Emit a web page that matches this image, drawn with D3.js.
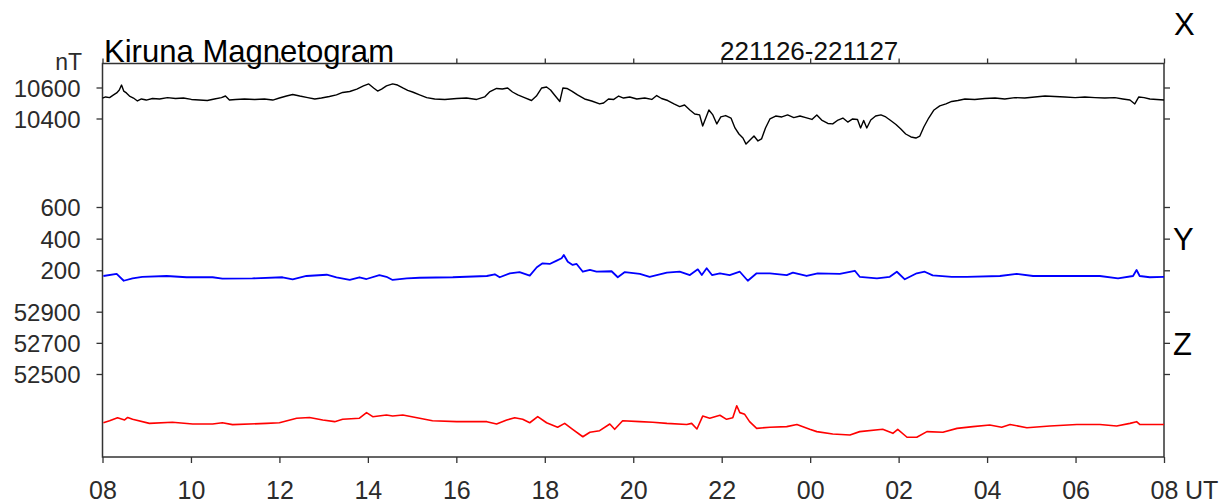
<!DOCTYPE html>
<html>
<head>
<meta charset="utf-8">
<script src="https://cdn.jsdelivr.net/npm/d3@7"></script>
<style>
  html, body { margin: 0; padding: 0; background: #fff; }
  svg { display: block; font-family: "Liberation Sans", Arial, sans-serif; }
</style>
</head>
<body>
<svg id="chart" width="1219" height="504"></svg>
<script>
// ---- Data (hours after 08 UT, nT) ----
const xHours = [0.00,0.07,0.16,0.25,0.32,0.38,0.43,0.48,0.54,0.61,0.70,0.79,0.88,0.99,1.13,1.29,1.47,1.65,1.83,2.01,2.19,2.37,2.53,2.69,2.78,2.87,3.01,3.21,3.44,3.66,3.85,4.00,4.16,4.30,4.46,4.64,4.80,4.95,5.13,5.29,5.43,5.59,5.75,5.90,6.02,6.13,6.22,6.31,6.42,6.56,6.67,6.79,6.90,7.01,7.17,7.33,7.51,7.74,8.01,8.23,8.46,8.64,8.75,8.91,9.04,9.16,9.27,9.39,9.54,9.70,9.81,9.93,10.04,10.13,10.22,10.34,10.41,10.50,10.61,10.74,10.90,11.06,11.24,11.33,11.44,11.56,11.67,11.78,11.92,12.08,12.26,12.42,12.53,12.64,12.78,12.92,13.05,13.16,13.28,13.39,13.50,13.57,13.64,13.71,13.80,13.89,13.98,14.09,14.21,14.30,14.39,14.48,14.55,14.64,14.73,14.82,14.90,14.99,15.09,15.22,15.36,15.49,15.63,15.77,15.90,16.04,16.15,16.26,16.40,16.51,16.63,16.74,16.85,16.96,17.07,17.14,17.21,17.28,17.37,17.48,17.60,17.71,17.82,17.94,18.05,18.16,18.28,18.39,18.48,18.57,18.68,18.80,18.93,19.07,19.20,19.34,19.50,19.72,19.95,20.18,20.40,20.63,20.85,21.08,21.31,21.53,21.76,21.99,22.21,22.44,22.66,22.89,23.07,23.23,23.34,23.43,23.55,23.68,23.84,24.00];
const xValues = [10532,10539,10535,10552,10565,10584,10616,10577,10565,10545,10532,10513,10526,10519,10529,10526,10535,10529,10532,10523,10519,10516,10526,10535,10545,10519,10523,10526,10523,10526,10519,10532,10545,10555,10545,10535,10526,10532,10542,10552,10568,10574,10590,10610,10623,10597,10577,10590,10610,10623,10616,10597,10581,10571,10552,10535,10526,10523,10529,10532,10523,10539,10571,10594,10590,10597,10571,10552,10535,10516,10545,10597,10603,10584,10552,10510,10597,10594,10577,10552,10526,10513,10494,10500,10526,10523,10545,10532,10539,10526,10532,10523,10548,10529,10516,10494,10477,10487,10455,10429,10423,10352,10403,10455,10423,10365,10410,10419,10403,10339,10300,10274,10235,10261,10287,10255,10268,10339,10397,10416,10410,10423,10406,10416,10406,10394,10423,10390,10368,10365,10390,10403,10377,10397,10394,10339,10387,10339,10390,10416,10423,10410,10387,10361,10332,10300,10281,10274,10287,10345,10403,10455,10481,10494,10510,10516,10526,10523,10529,10532,10526,10535,10532,10539,10545,10542,10539,10535,10539,10535,10532,10535,10526,10519,10494,10539,10535,10526,10523,10519];

const yHours = [0.02,0.32,0.48,0.68,0.90,1.45,1.90,2.49,2.71,3.39,4.07,4.30,4.61,5.07,5.29,5.59,5.81,5.97,6.26,6.42,6.56,6.88,7.17,7.92,8.69,8.87,8.98,9.21,9.43,9.66,9.82,9.95,10.11,10.27,10.38,10.43,10.52,10.63,10.72,10.86,11.02,11.17,11.51,11.65,11.81,12.15,12.37,12.76,13.05,13.28,13.46,13.55,13.66,13.78,13.96,14.18,14.41,14.59,14.79,15.09,15.47,15.61,15.92,16.17,16.67,17.01,17.12,17.51,17.80,17.96,18.14,18.41,18.59,18.77,19.20,19.54,20.29,20.67,21.04,21.80,22.55,22.96,23.30,23.38,23.45,23.68,24.00];
const yValues = [164,177,134,149,159,164,156,156,147,149,156,143,164,172,156,139,156,145,170,159,139,149,153,156,164,175,156,181,189,166,219,244,240,261,276,297,254,234,240,191,202,191,194,156,189,177,159,185,191,170,206,170,213,170,181,170,191,134,181,181,170,185,164,181,177,197,159,149,159,191,143,181,191,168,159,159,164,177,164,164,164,149,164,202,164,156,159];

const zHours = [0.02,0.16,0.34,0.50,0.57,0.68,1.06,1.58,2.04,2.49,2.71,2.94,3.71,4.00,4.39,4.68,4.98,5.25,5.43,5.81,5.97,6.11,6.42,6.56,6.79,7.17,7.46,8.01,8.69,8.91,9.14,9.32,9.50,9.66,9.84,10.04,10.29,10.45,10.63,10.86,11.02,11.24,11.47,11.58,11.76,12.15,12.44,12.76,13.21,13.32,13.44,13.57,13.73,13.96,14.11,14.25,14.34,14.41,14.52,14.63,14.79,15.09,15.47,15.70,15.99,16.15,16.51,16.90,17.12,17.64,17.87,17.98,18.19,18.41,18.64,19.00,19.32,19.68,20.06,20.33,20.52,20.90,21.42,22.03,22.55,22.93,23.23,23.38,23.45,24.00];
const zValues = [52187,52200,52219,52205,52221,52209,52183,52190,52179,52179,52187,52175,52183,52187,52216,52221,52205,52194,52209,52216,52252,52226,52237,52230,52237,52216,52200,52194,52194,52179,52205,52219,52209,52187,52226,52187,52158,52183,52145,52097,52126,52136,52179,52145,52200,52194,52190,52183,52176,52183,52147,52230,52216,52235,52209,52219,52296,52252,52241,52194,52151,52158,52162,52176,52145,52130,52115,52108,52130,52145,52119,52145,52094,52094,52130,52126,52151,52162,52173,52158,52176,52155,52166,52176,52176,52166,52183,52194,52176,52176];

const hourTicks = [0,2,4,6,8,10,12,14,16,18,20,22,24];
const hourLabels = ["08","10","12","14","16","18","20","22","00","02","04","06","08"];
const xTicks = [10400, 10600];
const yTicks = [200, 400, 600];
const zTicks = [52500, 52700, 52900];

// ---- Layout ----
const svg = d3.select("#chart");
const L = 102.5, R = 1164, T = 63.5, B = 457;
const frameColor = "#333";

const tx = d3.scaleLinear().domain([0, 24]).range([L, R]);
const sX = d3.scaleLinear().domain([10400, 10600]).range([118.5, 87.5]);
const sY = d3.scaleLinear().domain([200, 600]).range([270.3, 207]);
const sZ = d3.scaleLinear().domain([52500, 52900]).range([374, 311.7]);

// Frame
svg.append("rect").attr("x", L).attr("y", T).attr("width", R - L).attr("height", B - T)
  .attr("fill", "none").attr("stroke", frameColor).attr("stroke-width", 1.5);

function styleAxis(g) {
  g.select(".domain").remove();
  g.selectAll(".tick line").attr("stroke", frameColor).attr("stroke-width", 1.3);
}

// Top ticks
svg.append("g").attr("transform", `translate(0,${T})`)
  .call(d3.axisTop(tx).tickValues(hourTicks).tickSize(5).tickFormat(""))
  .call(styleAxis);

// Bottom ticks + labels
const bottom = svg.append("g").attr("transform", `translate(0,${B})`)
  .call(d3.axisBottom(tx).tickValues(hourTicks).tickSize(6).tickFormat((d, i) => hourLabels[i]))
  .call(styleAxis);
bottom.selectAll(".tick text")
  .attr("y", 42).attr("dy", null)
  .attr("font-size", 25).attr("fill", "#2b2b2b")
  .attr("font-family", "'Liberation Sans', Arial, sans-serif");

svg.append("text").attr("x", 1185).attr("y", 499)
  .attr("font-size", 25).attr("fill", "#2b2b2b").text("UT");

// Left & right axes for each component
[[sX, xTicks], [sY, yTicks], [sZ, zTicks]].forEach(([s, ticks]) => {
  const gl = svg.append("g").attr("transform", `translate(${L},0)`)
    .call(d3.axisLeft(s).tickValues(ticks).tickSize(6).tickPadding(16).tickFormat(d3.format("d")))
    .call(styleAxis);
  gl.selectAll(".tick text")
    .attr("font-size", 24).attr("fill", "#2b2b2b")
    .attr("font-family", "'Liberation Sans', Arial, sans-serif")
    .attr("dy", "0.36em");
  svg.append("g").attr("transform", `translate(${R},0)`)
    .call(d3.axisRight(s).tickValues(ticks).tickSize(6).tickFormat(""))
    .call(styleAxis);
});

// Lines
function drawLine(hours, values, scale, color, width) {
  const data = hours.map((h, i) => [h, values[i]]);
  svg.append("path").datum(data)
    .attr("fill", "none").attr("stroke", color).attr("stroke-width", width)
    .attr("stroke-linejoin", "round")
    .attr("d", d3.line().x(d => tx(d[0])).y(d => scale(d[1])));
}
drawLine(xHours, xValues, sX, "#000", 1.4);
drawLine(yHours, yValues, sY, "#0000ff", 1.8);
drawLine(zHours, zValues, sZ, "#ff0000", 1.6);

// Texts
svg.append("text").attr("x", 104).attr("y", 62).attr("font-size", 32).attr("fill", "#000")
  .attr("textLength", 290).attr("lengthAdjust", "spacingAndGlyphs")
  .text("Kiruna Magnetogram");
svg.append("text").attr("x", 720).attr("y", 59.5).attr("font-size", 26).attr("fill", "#111")
  .text("221126-221127");
svg.append("text").attr("x", 82).attr("y", 70).attr("text-anchor", "end")
  .attr("font-size", 23).attr("fill", "#2b2b2b").text("nT");
svg.append("text").attr("x", 1174).attr("y", 35).attr("font-size", 31).attr("fill", "#000").text("X");
svg.append("text").attr("x", 1173).attr("y", 250).attr("font-size", 31).attr("fill", "#000").text("Y");
svg.append("text").attr("x", 1173).attr("y", 355).attr("font-size", 31).attr("fill", "#000").text("Z");
</script>
</body>
</html>
